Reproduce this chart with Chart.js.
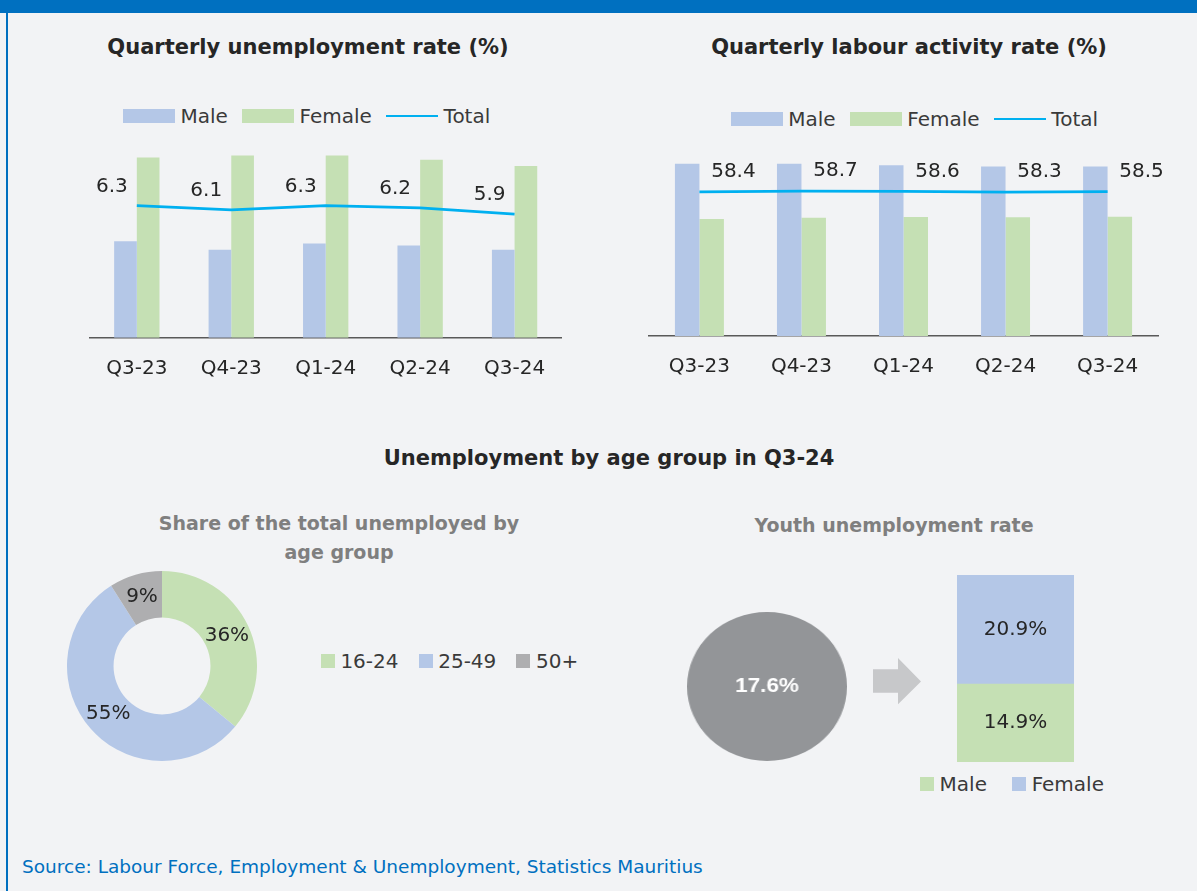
<!DOCTYPE html>
<html>
<head>
<meta charset="utf-8">
<title>Labour force indicators</title>
<script src="https://cdn.jsdelivr.net/npm/chart.js@4.4.1/dist/chart.umd.min.js"></script>
<style>
  html, body { margin: 0; padding: 0; }
  body {
    width: 1197px; height: 891px; position: relative; overflow: hidden;
    background: #f2f3f5; color: #262626;
    font-family: "DejaVu Sans", sans-serif;
  }
  .topbar { position: absolute; left: 0; top: 0; width: 1197px; height: 13px; background: #0070c0; }
  .leftbar { position: absolute; left: 6px; top: 0; width: 2px; height: 891px; background: #0070c0; }
  .c { position: absolute; transform: translate(-50%, -50%); white-space: nowrap; line-height: 1; text-align: center; }
  .title { font-weight: bold; font-size: 21px; color: #262626; }
  .sub { font-weight: bold; font-size: 19px; line-height: 29px; color: #7f7f7f; }
  .legend {
    position: absolute; display: flex; align-items: center; height: 24px;
    transform: translateY(-50%); font-size: 20px; color: #3a3a3a; white-space: nowrap;
  }
  .legend i { display: inline-block; flex: none; }
  .legend span { margin-left: 5.7px; }
  .source { position: absolute; left: 22px; top: 866px; transform: translateY(-50%); font-size: 18.5px; color: #0070c0; white-space: nowrap; }
  canvas { position: absolute; }
  #youthPieBox { position: absolute; left: 686.7px; top: 612.3px; width: 149px; height: 149px; transform: scaleX(1.074); transform-origin: 0 0; }
  #youthPieBox canvas { left: 0; top: 0; }
</style>
</head>
<body>
<div class="topbar"></div>
<div class="leftbar"></div>

<div class="c title" style="left:308px; top:47px;">Quarterly unemployment rate (%)</div>
<div class="c title" style="left:909px; top:47px;">Quarterly labour activity rate (%)</div>
<div class="legend" id="unempLegend" style="left:122.8px; top:116px;"></div>
<div class="legend" id="activityLegend" style="left:730.6px; top:119px;"></div>
<canvas id="unempChart" width="492" height="282" style="left:80px; top:118px;"></canvas>
<canvas id="activityChart" width="560" height="272" style="left:630px; top:128px;"></canvas>

<div class="c title" style="left:609px; top:458px;">Unemployment by age group in Q3-24</div>
<div class="c sub" style="left:339px; top:538px;">Share of the total unemployed by<br>age group</div>
<div class="c sub" style="left:894px; top:525px;">Youth unemployment rate</div>

<canvas id="ageChart" width="190" height="190" style="left:67px; top:571px;"></canvas>
<div class="legend" id="ageLegend" style="left:320.7px; top:661px;"></div>

<div id="youthPieBox"><canvas id="youthPie" width="149" height="149"></canvas></div>
<svg style="position:absolute; left:873px; top:658px;" width="48" height="47" viewBox="0 0 48 47">
  <polygon points="0,11.3 25,11.3 25,0 48,23.5 25,46.3 25,34.7 0,34.7" fill="#c7c8ca"/>
</svg>
<canvas id="youthBar" width="117" height="187" style="left:957px; top:575px;"></canvas>
<div class="legend" id="youthLegend" style="left:919.9px; top:784px;"></div>

<div class="source">Source: Labour Force, Employment &amp; Unemployment, Statistics Mauritius</div>

<script>
const quarters = ['Q3-23', 'Q4-23', 'Q1-24', 'Q2-24', 'Q3-24'];

const unempMale = [4.6, 4.2, 4.5, 4.4, 4.2];
const unempFemale = [8.6, 8.7, 8.7, 8.5, 8.2];
const unempTotal = [6.3, 6.1, 6.3, 6.2, 5.9];

const activityMale = [69.8, 69.8, 69.2, 68.7, 68.7];
const activityFemale = [47.4, 47.9, 48.3, 48.1, 48.4];
const activityTotal = [58.4, 58.7, 58.6, 58.3, 58.5];

const ageGroups = ['16-24', '25-49', '50+'];
const ageShares = [36, 55, 9];

const youthRate = [17.6];
const youthSexes = ['Male', 'Female'];
const youthRates = [14.9, 20.9];

const BLUE = '#b4c7e7';
const GREEN = '#c5e0b4';
const LINE = '#00b0f0';

Chart.defaults.font.family = '"DejaVu Sans", sans-serif';
Chart.defaults.font.size = 20;
Chart.defaults.color = '#262626';
Chart.defaults.plugins.legend.display = false;
Chart.defaults.plugins.tooltip.enabled = false;

// writes the value of each element next to (or inside) it
const valueLabels = {
  id: 'valueLabels',
  afterDatasetsDraw(chart, args, opts) {
    if (!opts.datasets) return;
    const ctx = chart.ctx;
    ctx.save();
    ctx.font = opts.font || '20px "DejaVu Sans"';
    ctx.fillStyle = opts.color || '#262626';
    ctx.textAlign = 'center';
    ctx.textBaseline = 'middle';
    opts.datasets.forEach(di => {
      const meta = chart.getDatasetMeta(di);
      const values = chart.data.datasets[di].data;
      meta.data.forEach((el, j) => {
        const p = opts.center ? el.getCenterPoint() : { x: el.x, y: el.y };
        ctx.fillText(opts.format(values[j]), p.x + (opts.dx || 0), p.y + (opts.dy || 0));
      });
    });
    ctx.restore();
  }
};

function htmlLegend(id, items, swatch) {
  const box = document.getElementById(id);
  items.forEach((it, i) => {
    const sw = document.createElement('i');
    const line = it.kind === 'line';
    sw.style.width = swatch.w + 'px';
    sw.style.height = (line ? 2.75 : swatch.h) + 'px';
    sw.style.background = it.color;
    if (i > 0) sw.style.marginLeft = swatch.gap + 'px';
    const tx = document.createElement('span');
    tx.textContent = it.label;
    box.appendChild(sw);
    box.appendChild(tx);
  });
}

function quarterlyChart(id, male, female, total, yMax, padding, axisHeight, dx, dy) {
  return new Chart(document.getElementById(id), {
    type: 'bar',
    data: {
      labels: quarters,
      datasets: [
        { type: 'line', label: 'Total', data: total, borderColor: LINE, borderWidth: 2.75,
          pointRadius: 0, tension: 0, order: 0 },
        { label: 'Male', data: male, backgroundColor: BLUE, order: 1,
          categoryPercentage: 0.48, barPercentage: 1 },
        { label: 'Female', data: female, backgroundColor: GREEN, order: 1,
          categoryPercentage: 0.48, barPercentage: 1 }
      ]
    },
    options: {
      responsive: false,
      animation: false,
      layout: { padding },
      plugins: {
        valueLabels: { datasets: [0], dx, dy, format: v => v.toFixed(1) }
      },
      scales: {
        x: {
          grid: { display: false, drawTicks: false },
          border: { display: true, color: '#595959', width: 1.5 },
          ticks: { padding: 18.6, color: '#262626' },
          afterFit: s => { s.height = axisHeight; }
        },
        y: { display: false, min: 0, max: yMax }
      }
    },
    plugins: [valueLabels]
  });
}

const unemp = quarterlyChart('unempChart', unempMale, unempFemale, unempTotal, 10,
  { left: 9.6, right: 10.2, top: 10.2, bottom: 0 }, 62.3, -25, -19);
const activity = quarterlyChart('activityChart', activityMale, activityFemale, activityTotal, 80,
  { left: 18.4, right: 31.4, top: 10.7, bottom: 0 }, 64, 34, -20);

[['unempLegend', unemp], ['activityLegend', activity]].forEach(([id, ch]) => {
  const ds = ch.data.datasets;
  htmlLegend(id, [
    { label: ds[1].label, color: ds[1].backgroundColor },
    { label: ds[2].label, color: ds[2].backgroundColor },
    { label: ds[0].label, color: ds[0].borderColor, kind: 'line' }
  ], { w: 52, h: 14, gap: 14 });
});

// share of unemployed by age group
const ageColors = [GREEN, BLUE, '#aeaeb0'];
new Chart(document.getElementById('ageChart'), {
  type: 'doughnut',
  data: {
    labels: ageGroups,
    datasets: [{ data: ageShares, backgroundColor: ageColors, borderWidth: 0 }]
  },
  options: {
    responsive: false,
    animation: false,
    cutout: '51%',
    plugins: {
      valueLabels: { datasets: [0], center: true, format: v => v + '%' }
    }
  },
  plugins: [valueLabels]
});
htmlLegend('ageLegend', ageGroups.map((g, i) => ({ label: g, color: ageColors[i] })),
  { w: 14, h: 13.4, gap: 20 });

// overall youth rate as a single full disc
new Chart(document.getElementById('youthPie'), {
  type: 'pie',
  data: {
    labels: ['Youth'],
    datasets: [{ data: youthRate, backgroundColor: '#939598', borderWidth: 0 }]
  },
  options: {
    responsive: false,
    animation: false,
    plugins: {
      valueLabels: {
        datasets: [0], center: false, color: '#ffffff',
        font: 'bold 21px "Liberation Sans"',
        format: v => v.toFixed(1) + '%'
      }
    }
  },
  plugins: [{
    id: 'discLabel',
    afterDatasetsDraw(chart) {
      const arc = chart.getDatasetMeta(0).data[0];
      const ctx = chart.ctx;
      ctx.save();
      ctx.font = 'bold 21px "Liberation Sans"';
      ctx.fillStyle = '#ffffff';
      ctx.textAlign = 'center';
      ctx.textBaseline = 'middle';
      ctx.fillText(youthRate[0].toFixed(1) + '%', arc.x, arc.y);
      ctx.restore();
    }
  }]
});

// youth rate split by sex, stacked
const sexColors = [GREEN, BLUE];
new Chart(document.getElementById('youthBar'), {
  type: 'bar',
  data: {
    labels: [''],
    datasets: youthSexes.map((s, i) => ({
      label: s, data: [youthRates[i]], backgroundColor: sexColors[i],
      borderWidth: 0, categoryPercentage: 1, barPercentage: 1
    }))
  },
  options: {
    responsive: false,
    animation: false,
    scales: {
      x: { display: false, stacked: true },
      y: { display: false, stacked: true, min: 0, max: youthRates[0] + youthRates[1] }
    },
    plugins: {
      valueLabels: { datasets: [0, 1], center: true, format: v => v.toFixed(1) + '%' }
    }
  },
  plugins: [valueLabels]
});
htmlLegend('youthLegend', youthSexes.map((s, i) => ({ label: s, color: sexColors[i] })),
  { w: 14, h: 13.4, gap: 25 });
</script>
</body>
</html>
